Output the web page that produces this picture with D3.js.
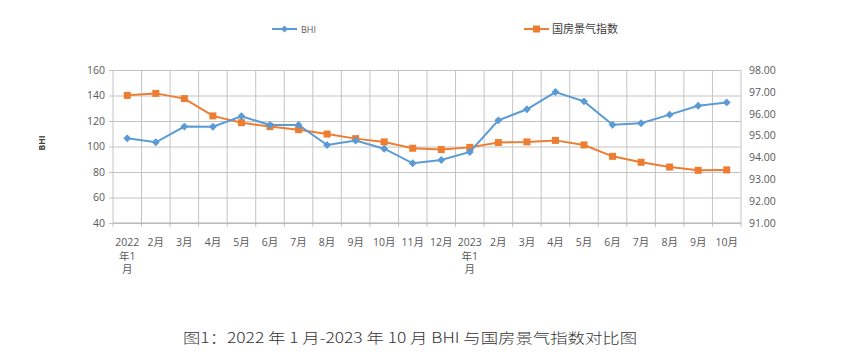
<!DOCTYPE html>
<html><head><meta charset="utf-8">
<script src="https://cdn.jsdelivr.net/npm/d3@7"></script>
<style>body{margin:0;background:#fff}svg{display:block}</style>
</head><body>
<svg id="c" width="855" height="356"></svg>
<script>
const categories = [["2022","年1","月"],["2月"],["3月"],["4月"],["5月"],["6月"],["7月"],["8月"],["9月"],["10月"],["11月"],["12月"],["2023","年1","月"],["2月"],["3月"],["4月"],["5月"],["6月"],["7月"],["8月"],["9月"],["10月"]];
const bhi = [106.4,103.3,115.6,115.5,123.7,116.9,116.9,101.2,104.6,98.3,86.8,89.4,95.7,120.5,129.2,142.7,135.4,117.1,118.2,125.0,132.0,134.6];
const guofang = [96.84,96.93,96.69,95.90,95.59,95.41,95.27,95.07,94.86,94.71,94.42,94.36,94.46,94.68,94.71,94.78,94.57,94.05,93.78,93.56,93.41,93.43];
const leftTicks = [40,60,80,100,120,140,160];
const rightTicks = [91,92,93,94,95,96,97,98];

const svg = d3.select("#c");
const L = 113, R = 741, T = 70, B = 223;
const x = d3.scaleBand().domain(d3.range(categories.length)).range([L, R]);
const yL = d3.scaleLinear().domain([40,160]).range([B, T]);
const yR = d3.scaleLinear().domain([91,98]).range([B, T]);
const grid = "#c4c4c4";
const txt = "#595959";
const font = "'Open Sans','Noto Sans CJK SC',sans-serif";

// horizontal gridlines via left axis
const gl = svg.append("g").attr("transform",`translate(${L},0)`)
  .call(d3.axisLeft(yL).tickValues(leftTicks).tickSize(-(R-L)).tickPadding(8).tickFormat(d3.format("d")));
gl.select(".domain").remove();
gl.selectAll(".tick line").attr("stroke",grid).attr("x1",-4).attr("x2",R-L);
gl.selectAll(".tick text").attr("fill",txt).style("font-family",font).style("font-size","10.5px");

// vertical gridlines at band boundaries
const bounds = d3.range(categories.length+1).map(i => L + i*x.step());
svg.append("g").selectAll("line").data(bounds).join("line")
  .attr("x1",d=>d).attr("x2",d=>d).attr("y1",T).attr("y2",B+4)
  .attr("stroke",grid).attr("stroke-width",1);
svg.append("line").attr("x1",L).attr("x2",R).attr("y1",B).attr("y2",B).attr("stroke","#b0b0b0");

// right axis labels
const gr = svg.append("g").attr("transform",`translate(${R},0)`)
  .call(d3.axisRight(yR).tickValues(rightTicks).tickSize(0).tickPadding(8).tickFormat(d3.format(".2f")));
gr.select(".domain").remove();
gr.selectAll(".tick text").attr("fill",txt).style("font-family",font).style("font-size","10.5px");

// x labels
const xl = svg.append("g");
categories.forEach((lines,i)=>{
  const t = xl.append("text").attr("x", x(i)+x.bandwidth()/2).attr("y",246)
    .attr("text-anchor","middle").attr("fill",txt).style("font-family",font).style("font-size","10.5px");
  lines.forEach((s,j)=> t.append("tspan").attr("x",x(i)+x.bandwidth()/2).attr("dy", j===0?0:13.5).text(s));
});

const cx = i => x(i)+x.bandwidth()/2;
const blue = "#5b9bd5", orange = "#ed7d31";
// orange series
svg.append("path").datum(guofang).attr("fill","none").attr("stroke",orange).attr("stroke-width",2)
  .attr("d", d3.line().x((d,i)=>cx(i)).y(d=>yR(d)));
svg.append("g").selectAll("rect").data(guofang).join("rect")
  .attr("x",(d,i)=>cx(i)-3.5).attr("y",d=>yR(d)-3.5).attr("width",7).attr("height",7).attr("fill",orange);
// blue series
svg.append("path").datum(bhi).attr("fill","none").attr("stroke",blue).attr("stroke-width",2)
  .attr("d", d3.line().x((d,i)=>cx(i)).y(d=>yL(d)));
svg.append("g").selectAll("path.m").data(bhi).join("path").attr("class","m")
  .attr("d", d3.symbol(d3.symbolDiamond2, 40)())
  .attr("transform",(d,i)=>`translate(${cx(i)},${yL(d)})`).attr("fill",blue);

// y title
svg.append("text").attr("transform","translate(45,143) rotate(-90)").attr("text-anchor","middle")
  .attr("fill","#404040").style("font-family",font).style("font-size","8.5px").style("font-weight","bold").text("BHI");

// legend
const lg = svg.append("g");
lg.append("line").attr("x1",272).attr("x2",297).attr("y1",29).attr("y2",29).attr("stroke",blue).attr("stroke-width",2);
lg.append("path").attr("d",d3.symbol(d3.symbolDiamond2,30)()).attr("transform","translate(284.5,29)").attr("fill",blue);
lg.append("text").attr("x",301).attr("y",32.5).attr("fill","#595959").style("font-family",font).style("font-size","9px").text("BHI");
lg.append("line").attr("x1",524).attr("x2",549).attr("y1",29).attr("y2",29).attr("stroke",orange).attr("stroke-width",2);
lg.append("rect").attr("x",533).attr("y",25.5).attr("width",7).attr("height",7).attr("fill",orange);
lg.append("text").attr("x",552).attr("y",33).attr("fill","#404040").style("font-family","'Noto Sans CJK SC',sans-serif").style("font-size","11px").text("国房景气指数");

// caption
svg.append("text").attr("x",183).attr("y",343).attr("textLength",454).attr("lengthAdjust","spacingAndGlyphs")
  .attr("fill","#333").style("font-family","'Noto Sans CJK SC','DejaVu Sans Mono',monospace").style("font-size","14px").style("font-weight","300")
  .text("图1：2022 年 1 月-2023 年 10 月 BHI 与国房景气指数对比图");
</script>
</body></html>
